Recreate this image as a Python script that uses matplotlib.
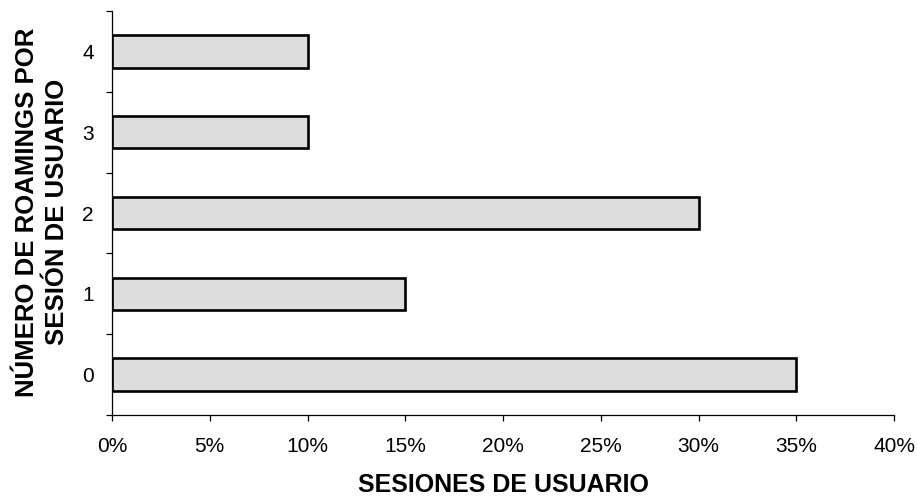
import matplotlib
matplotlib.use("Agg")
import matplotlib.pyplot as plt
from matplotlib.ticker import FuncFormatter, FixedLocator

plt.rcParams['font.family'] = ['Liberation Sans', 'DejaVu Sans']

# roamings per user session -> share of sessions (%)
roamings = [0, 1, 2, 3, 4]
sesiones = [35, 15, 30, 10, 10]
xticks = [0, 5, 10, 15, 20, 25, 30, 35, 40]

fig = plt.figure(figsize=(9.17, 4.98), dpi=100)
ax = fig.add_axes([112 / 917, 1 - 415 / 498, 782 / 917, 404 / 498])

ax.barh(roamings, sesiones, height=0.4, color='#dddddd',
        edgecolor='black', linewidth=1.9)

ax.set_xlim(0, 40)
ax.set_ylim(-0.5, 4.5)
ax.set_xticks(xticks)
ax.xaxis.set_major_formatter(FuncFormatter(lambda v, p: f"{v:.0f}%"))
ax.tick_params(axis='x', direction='out', length=4, width=0.9,
               labelsize=15, pad=12)

# labels in the middle of each band, ticks on the band edges
ax.set_yticks(roamings)
ax.yaxis.set_minor_locator(FixedLocator([r - 0.5 for r in roamings] + [4.5]))
ax.tick_params(axis='y', which='major', length=0, labelsize=15, pad=13)
ax.tick_params(axis='y', which='minor', direction='out', length=4, width=0.9)

for s in ['top', 'right']:
    ax.spines[s].set_visible(False)
for s in ['left', 'bottom']:
    ax.spines[s].set_linewidth(0.9)

ax.set_xlabel("SESIONES DE USUARIO", fontsize=18, fontweight='bold',
              labelpad=12)
fig.text(42 / 917, 1 - 212 / 498, "NÚMERO DE ROAMINGS POR\nSESIÓN DE USUARIO",
         rotation=90, ha='center', va='center', multialignment='center',
         fontsize=18.5, fontweight='bold', linespacing=1.3)

fig.savefig("out.png", dpi=100)
